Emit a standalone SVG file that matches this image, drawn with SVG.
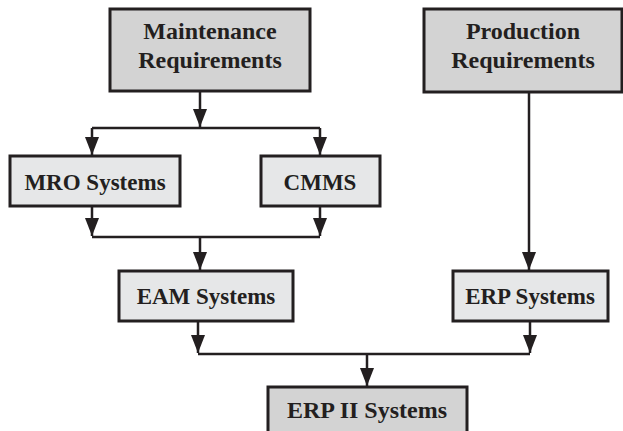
<svg xmlns="http://www.w3.org/2000/svg" width="623" height="431" viewBox="0 0 623 431">
<defs>
<style>
.box{stroke:#231f20;stroke-width:3}
.dark{fill:#d3d3d3}
.light{fill:#e6e7e8}
.t{font-family:"Liberation Serif","Times New Roman",serif;font-weight:bold;font-size:23px;fill:#231f20;text-anchor:middle}
.big{font-size:24px}
.c{fill:none;stroke:#231f20;stroke-width:2.5}
</style>
<marker id="arr" markerUnits="userSpaceOnUse" markerWidth="18" markerHeight="14" viewBox="0 0 18 14" refX="18" refY="7" orient="auto">
<path d="M0,0 L18,7 L0,14 Z" fill="#231f20"/>
</marker>
</defs>
<g id="connectors">
<path class="c" d="M200,91 V127" marker-end="url(#arr)"/>
<path class="c" d="M92,128 H320"/>
<path class="c" d="M92,128 V155" marker-end="url(#arr)"/>
<path class="c" d="M320,128 V155" marker-end="url(#arr)"/>
<path class="c" d="M92,206 V236" marker-end="url(#arr)"/>
<path class="c" d="M320,206 V236" marker-end="url(#arr)"/>
<path class="c" d="M92,237 H320"/>
<path class="c" d="M200,237 V270" marker-end="url(#arr)"/>
<path class="c" d="M529,92 V270" marker-end="url(#arr)"/>
<path class="c" d="M198,321 V353" marker-end="url(#arr)"/>
<path class="c" d="M530,321 V353" marker-end="url(#arr)"/>
<path class="c" d="M198,354 H530"/>
<path class="c" d="M367,354 V386" marker-end="url(#arr)"/>
</g>
<g id="maintenance">
<rect class="box dark" x="110" y="9" width="200" height="82"/>
<text class="t big" x="210" y="39">Maintenance</text>
<text class="t big" x="210" y="68">Requirements</text>
</g>
<g id="production">
<rect class="box dark" x="424" y="9" width="198" height="83"/>
<text class="t big" x="523" y="39">Production</text>
<text class="t big" x="523" y="68">Requirements</text>
</g>
<g id="mro">
<rect class="box light" x="10" y="156" width="170" height="50"/>
<text class="t" x="95" y="190">MRO Systems</text>
</g>
<g id="cmms">
<rect class="box light" x="261" y="156" width="119" height="50"/>
<text class="t" x="320" y="190">CMMS</text>
</g>
<g id="eam">
<rect class="box light" x="119" y="271" width="174" height="50"/>
<text class="t" x="206" y="304">EAM Systems</text>
</g>
<g id="erp">
<rect class="box light" x="453" y="271" width="155" height="50"/>
<text class="t" x="530" y="304">ERP Systems</text>
</g>
<g id="erp2">
<rect class="box dark" x="268" y="387" width="199" height="50"/>
<text class="t big" x="367" y="418">ERP II Systems</text>
</g>
</svg>
